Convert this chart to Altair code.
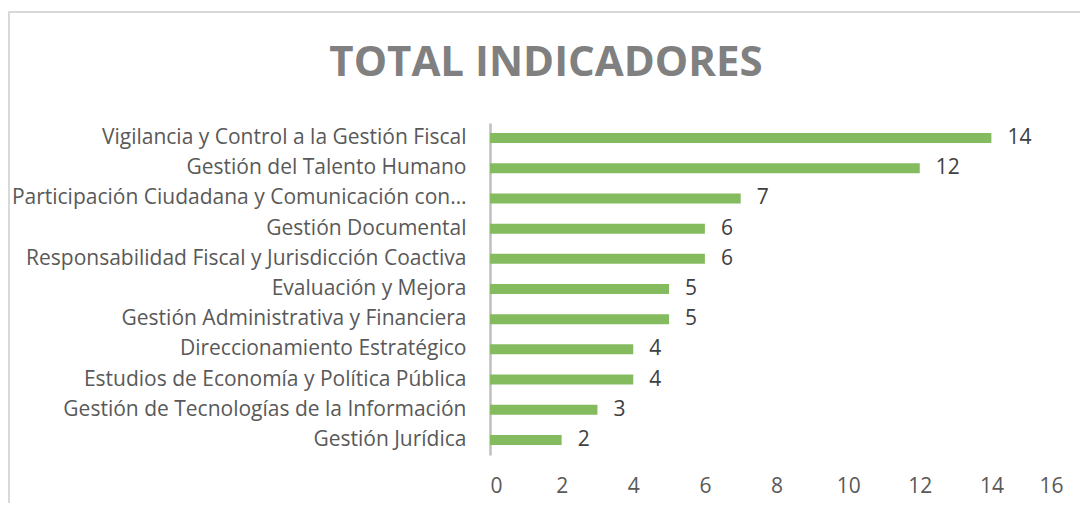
import altair as alt
import pandas as pd

categories = [
    "Vigilancia y Control a la Gestión Fiscal",
    "Gestión del Talento Humano",
    "Participación Ciudadana y Comunicación con…",
    "Gestión Documental ",
    "Responsabilidad Fiscal y Jurisdicción Coactiva",
    "Evaluación y Mejora",
    "Gestión Administrativa y Financiera",
    "Direccionamiento Estratégico",
    "Estudios de Economía y Política Pública",
    "Gestión de Tecnologías de la Información",
    "Gestión Jurídica",
]
values = [14, 12, 7, 6, 6, 5, 5, 4, 4, 3, 2]
x_ticks = [0, 2, 4, 6, 8, 10, 12, 14, 16]
title_text = ["TOTAL INDICADORES"]

df = pd.DataFrame({"cat": categories, "val": values})
tdf = pd.DataFrame({"t": title_text})

FONT = "Open Sans"
W, H = 573, 332

y_enc = alt.Y("cat:N", sort=categories, title=None,
              scale=alt.Scale(paddingInner=0.0, paddingOuter=0.0),
              axis=alt.Axis(labelFont=FONT, labelFontSize=21, labelColor="#595959",
                            labelPadding=24, ticks=False, domain=True,
                            domainColor="#bfbfbf", domainWidth=2.5, labelLimit=480))
x_enc = alt.X("val:Q", title=None,
              scale=alt.Scale(domain=[0, 16], nice=False),
              axis=alt.Axis(values=x_ticks, labelFont=FONT, labelFontSize=21,
                            labelColor="#595959", labelPadding=20, ticks=False,
                            domain=False, grid=False))

bars = alt.Chart(df).mark_bar(size=10, color="#84BB5E").encode(x=x_enc, y=y_enc)
labels = alt.Chart(df).mark_text(align="left", dx=16, font=FONT, fontSize=21,
                                 color="#404040").encode(
    x="val:Q", y=alt.Y("cat:N", sort=categories), text="val:Q")

border = alt.Chart(df).mark_rect(fill=None, stroke="#d9d9d9", strokeWidth=2).encode(
    x=alt.value(-481), x2=alt.value(700), y=alt.value(-111), y2=alt.value(500))

title = alt.Chart(tdf).mark_text(align="center", baseline="alphabetic", font=FONT,
                                 fontSize=42, fontWeight="bold", color="#808080").encode(
    x=alt.value(56), y=alt.value(-47), text="t:N")

chart = alt.layer(border, bars, labels, title).properties(
    width=W, height=H,
    autosize=alt.AutoSizeParams(type="none"),
    padding={"left": 482, "top": 115, "right": 17, "bottom": 48},
).configure_view(stroke=None)

chart.save("out.html", embed_options={"renderer": "svg", "actions": False})
